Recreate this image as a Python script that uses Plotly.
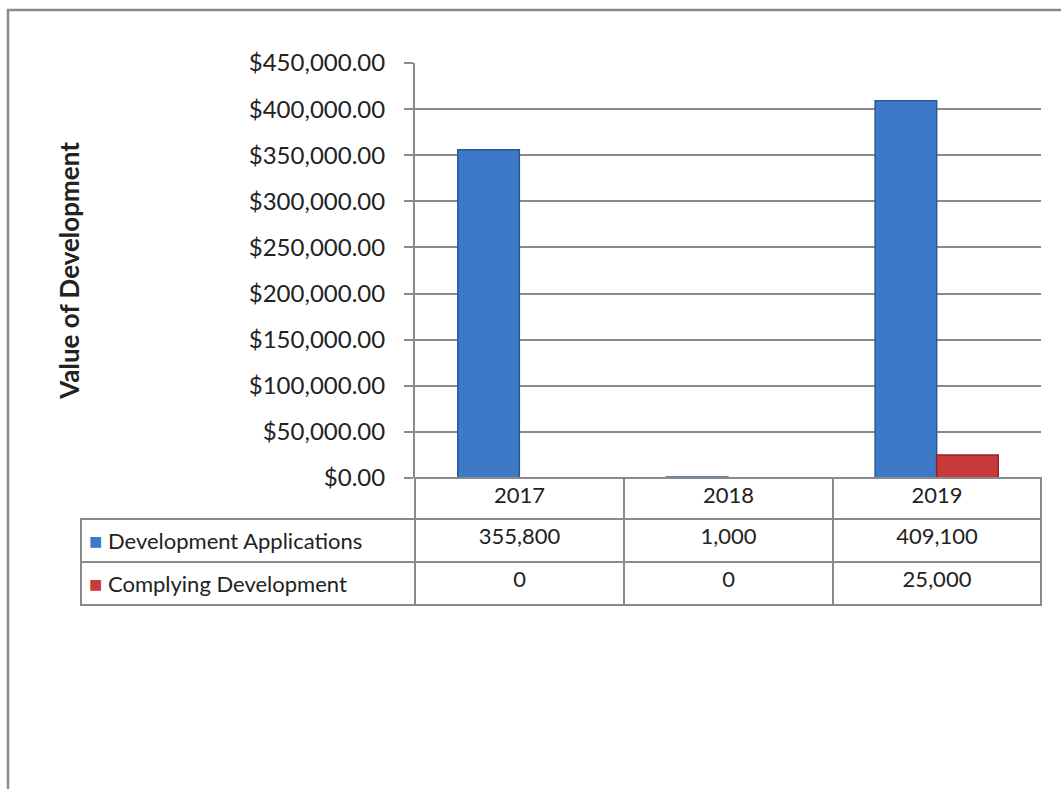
import plotly.graph_objects as go

# ---- data ----
years = ["2017", "2018", "2019"]
series_names = ["Development Applications", "Complying Development"]
dev_applications = [355800, 1000, 409100]
complying_development = [0, 0, 25000]
table_values = [["355,800", "0"], ["1,000", "0"], ["409,100", "25,000"]]
y_ticks = [0, 50000, 100000, 150000, 200000, 250000, 300000, 350000, 400000, 450000]
y_title = "Value of Development"

W, H = 1061, 789
FONT = "Lato"
BLUE = "#3d79c6"
BLUE_EDGE = "#2b5797"
RED = "#c8393b"
RED_EDGE = "#8e2325"
GRID = "#8a8a8a"
TXT = "#222222"
NBSP = "\u00a0"


def px_x(p):
    return p / W


def px_y(p):
    return 1 - p / H


def legend_label(name, color):
    # coloured key square + series name; non-breaking spaces stop table wrapping
    return (f'<a href="x"style="color:{color}">■</a>{NBSP}'
            + name.replace(" ", NBSP))


fig = go.Figure()

fig.add_trace(go.Bar(
    x=years, y=dev_applications, name=series_names[0],
    marker=dict(color=BLUE, line=dict(color=BLUE_EDGE, width=1.5)),
    showlegend=False,
))
fig.add_trace(go.Bar(
    x=years, y=complying_development, name=series_names[1],
    marker=dict(color=RED, line=dict(color=RED_EDGE, width=1.5)),
    showlegend=False,
))

# data table below the plot
col0 = [legend_label(series_names[0], BLUE), legend_label(series_names[1], RED)]
cells_vals = [col0] + [list(v) for v in table_values]
header_vals = [""] + years
fig.add_trace(go.Table(
    domain=dict(x=[px_x(81), px_x(1041)], y=[px_y(606), px_y(478)]),
    columnwidth=[334, 209, 209, 208],
    header=dict(
        values=header_vals,
        height=41,
        align="center",
        fill=dict(color=["rgba(0,0,0,0)", "white", "white", "white"]),
        line=dict(color=["rgba(0,0,0,0)", GRID, GRID, GRID], width=2),
        font=dict(family=FONT, size=22, color=TXT),
    ),
    cells=dict(
        values=cells_vals,
        height=43,
        align=["left", "center", "center", "center"],
        fill=dict(color="white"),
        line=dict(color=GRID, width=2),
        font=dict(family=FONT, size=22, color=TXT),
    ),
))

fig.update_layout(
    template="none",
    width=W, height=H,
    margin=dict(l=0, r=0, t=0, b=0, autoexpand=False),
    paper_bgcolor="white",
    plot_bgcolor="white",
    barmode="group",
    bargap=0.41,
    bargroupgap=0,
    font=dict(family=FONT, color=TXT),
    xaxis=dict(
        domain=[px_x(415), px_x(1041)],
        automargin=False,
        showticklabels=False,
        showline=False,
        showgrid=False,
        zeroline=False,
        ticks="",
        fixedrange=True,
    ),
    yaxis=dict(
        domain=[px_y(478), px_y(63)],
        automargin=False,
        range=[0, 450000],
        tickvals=y_ticks,
        tickformat="$,.2f",
        showgrid=True,
        gridcolor=GRID,
        gridwidth=2,
        showline=True,
        linecolor=GRID,
        linewidth=2,
        ticks="outside",
        ticklen=9,
        tickwidth=2,
        tickcolor=GRID,
        ticklabelstandoff=14,
        zeroline=False,
        tickfont=dict(family=FONT, size=24, color=TXT),
        title=dict(text=f"<b>{y_title}</b>", font=dict(family=FONT, size=26, color=TXT), standoff=162),
        fixedrange=True,
    ),
    shapes=[
        dict(type="rect", xref="paper", yref="paper",
             x0=px_x(8), x1=px_x(1075), y0=px_y(800), y1=px_y(10),
             line=dict(color="#8a8a8a", width=2.5), fillcolor="rgba(0,0,0,0)", layer="above"),
    ],
)

fig.write_html("out.html", config={"displayModeBar": False},
               post_script="document.body.style.margin='0px';")
